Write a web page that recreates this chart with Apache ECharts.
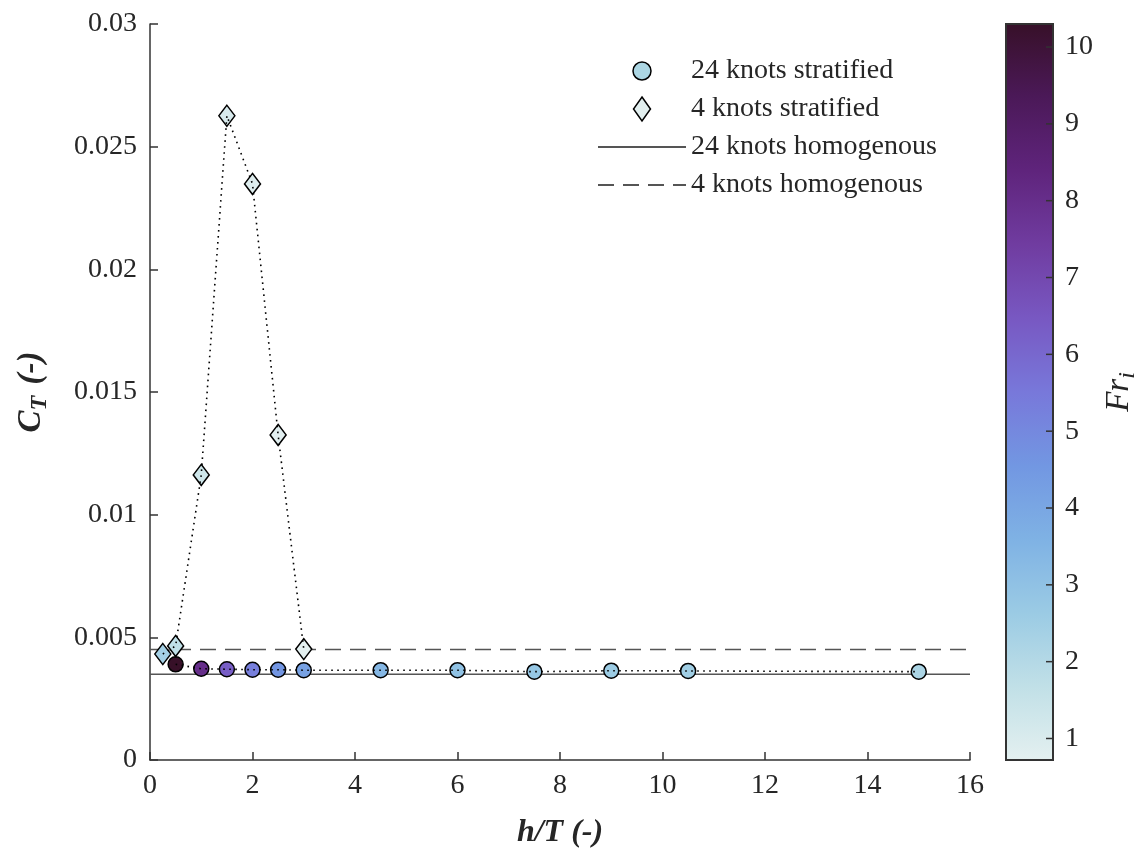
<!DOCTYPE html>
<html>
<head>
<meta charset="utf-8">
<script src="https://cdn.jsdelivr.net/npm/echarts@6/dist/echarts.min.js"></script>
<style>html,body{margin:0;padding:0;background:#fff}</style>
</head>
<body>
<div id="chart" style="width:1138px;height:849px"></div>
<script>
// 24 knots, stratified
var h24 = [0.5, 1, 1.5, 2, 2.5, 3, 4.5, 6, 7.5, 9, 10.5, 15];
var ct24 = [0.00390, 0.00372, 0.00370, 0.00368, 0.00368, 0.00366, 0.00366, 0.00366, 0.00360, 0.00364, 0.00363, 0.00360];
var fr24 = [10.3, 8.0, 6.3, 5.3, 4.6, 4.2, 3.4, 3.0, 2.8, 2.6, 2.5, 2.2];
// 4 knots, stratified
var h4 = [0.25, 0.5, 1, 1.5, 2, 2.5, 3];
var ct4 = [0.00432, 0.00465, 0.01162, 0.02626, 0.02348, 0.01325, 0.00452];
var fr4 = [2.4, 1.72, 1.33, 1.05, 0.88, 0.77, 0.72];
// homogenous reference values
var ct24Homog = 0.0035;
var ct4Homog = 0.0045;
var xRange = [0, 16];
var yRange = [0, 0.03];
var frRange = [0.72, 10.30];
var frTicks = [1, 2, 3, 4, 5, 6, 7, 8, 9, 10];
var names = ['24 knots stratified', '4 knots stratified', '24 knots homogenous', '4 knots homogenous'];

// colormap (light teal -> blue -> purple -> dark plum)
var cmap = ['#e4f0f0', '#c1e0e7', '#9bcbe4', '#7fb2e4', '#7297e2', '#7878da',
            '#7858c2', '#703ca0', '#5f247c', '#4b1958', '#371028'];

var FONT = 'Liberation Serif';
var TXT = '#262626';

var chart = echarts.init(document.getElementById('chart'));

var stops = cmap.map(function (c, i) { return { offset: i / (cmap.length - 1), color: c }; });

function pts(xs, ys, cs) {
  return xs.map(function (x, i) { return cs ? [x, ys[i], cs[i]] : [x, ys[i]]; });
}

// colorbar: gradient rect + inward ticks on its right edge
function renderColorbar(params, api) {
  var p0 = api.coord([0, frRange[0]]);
  var p1 = api.coord([1, frRange[1]]);
  var kids = [{
    type: 'rect',
    shape: { x: p0[0], y: p1[1], width: p1[0] - p0[0], height: p0[1] - p1[1] },
    style: { fill: new echarts.graphic.LinearGradient(0, 1, 0, 0, stops), stroke: '#333', lineWidth: 2 }
  }];
  frTicks.forEach(function (v) {
    var p = api.coord([1, v]);
    kids.push({ type: 'line', shape: { x1: p[0] - 7, y1: p[1], x2: p[0], y2: p[1] },
      style: { stroke: '#333', lineWidth: 1.5 } });
  });
  return { type: 'group', children: kids };
}

var option = {
  animation: false,
  backgroundColor: '#fff',
  grid: [
    { left: 150, right: 168, top: 24, bottom: 89, outerBoundsMode: 'none' },
    { left: 1006, width: 47, top: 24, bottom: 89, outerBoundsMode: 'none' }
  ],
  xAxis: [{
    type: 'value', gridIndex: 0, min: xRange[0], max: xRange[1], interval: 2,
    axisLine: { lineStyle: { color: '#333', width: 1.5 } },
    axisTick: { inside: true, length: 8, lineStyle: { color: '#333', width: 1.5 } },
    axisLabel: { color: TXT, fontFamily: FONT, fontSize: 28, margin: 12 },
    splitLine: { show: false },
    name: 'h/T (-)', nameLocation: 'middle', nameGap: 57,
    nameTextStyle: { color: TXT, fontFamily: FONT, fontSize: 32, fontWeight: 'bold', fontStyle: 'italic' }
  }, {
    type: 'value', gridIndex: 1, min: 0, max: 1, show: false
  }],
  yAxis: [{
    type: 'value', gridIndex: 0, min: yRange[0], max: yRange[1], interval: 0.005,
    axisLine: { show: true, lineStyle: { color: '#333', width: 1.5 } },
    axisTick: { show: true, inside: true, length: 8, lineStyle: { color: '#333', width: 1.5 } },
    axisLabel: { color: TXT, fontFamily: FONT, fontSize: 28, margin: 13 },
    splitLine: { show: false },
    name: '{m|C}{s|T}{m| (-)}', nameLocation: 'middle', nameGap: 98, nameRotate: 90,
    nameTextStyle: {
      rich: {
        m: { color: TXT, fontFamily: FONT, fontSize: 33, fontWeight: 'bold', fontStyle: 'italic' },
        s: { color: TXT, fontFamily: FONT, fontSize: 24, fontWeight: 'bold', fontStyle: 'italic', padding: [18, 3, 0, 0] }
      }
    }
  }, {
    type: 'value', gridIndex: 1, min: frRange[0], max: frRange[1], position: 'right',
    axisLine: { show: false },
    axisTick: { show: false },
    axisLabel: { customValues: frTicks, color: TXT, fontFamily: FONT, fontSize: 28, margin: 12 },
    splitLine: { show: false },
    name: '{m|Fr}{s|i}', nameLocation: 'middle', nameGap: 45, nameRotate: 90,
    nameTextStyle: {
      rich: {
        m: { color: TXT, fontFamily: FONT, fontSize: 33, fontStyle: 'italic' },
        s: { color: TXT, fontFamily: FONT, fontSize: 24, fontStyle: 'italic', padding: [18, 0, 0, 0] }
      }
    }
  }],
  visualMap: {
    type: 'continuous', show: false, dimension: 2, seriesIndex: [0, 1],
    min: frRange[0], max: frRange[1], inRange: { color: cmap }
  },
  legend: {
    orient: 'vertical', left: 597, top: 57, padding: 0,
    itemWidth: 88, itemHeight: 24, itemGap: 10,
    textStyle: { color: TXT, fontFamily: FONT, fontSize: 28 },
    data: [
      { name: names[0], icon: 'path://M0,-3M0,21M0,9A9,9,0,1,1,18,9A9,9,0,1,1,0,9Z',
        itemStyle: { color: '#acd6e3', borderColor: '#000', borderWidth: 1.5 } },
      { name: names[1], icon: 'path://M8.5,0L17,12L8.5,24L0,12Z',
        itemStyle: { color: '#e2efef', borderColor: '#000', borderWidth: 1.5 } },
      { name: names[2], itemStyle: { color: 'rgba(0,0,0,0)', borderWidth: 0 } },
      { name: names[3], itemStyle: { color: 'rgba(0,0,0,0)', borderWidth: 0 } }
    ]
  },
  series: [{
    name: names[0], type: 'scatter', symbol: 'circle', symbolSize: 15, z: 3,
    itemStyle: { borderColor: '#000', borderWidth: 1.5, opacity: 1 },
    data: pts(h24, ct24, fr24)
  }, {
    name: names[1], type: 'scatter', symbol: 'diamond', symbolSize: [16, 21], z: 3,
    itemStyle: { borderColor: '#000', borderWidth: 1.5, opacity: 1 },
    data: pts(h4, ct4, fr4)
  }, {
    name: names[2], type: 'line', symbol: 'none', z: 1,
    lineStyle: { color: '#555', width: 1.5 },
    data: [[xRange[0], ct24Homog], [xRange[1], ct24Homog]]
  }, {
    name: names[3], type: 'line', symbol: 'none', z: 1,
    lineStyle: { color: '#555', width: 1.5, type: [16, 9] },
    data: [[xRange[0], ct4Homog], [xRange[1], ct4Homog]]
  }, {
    type: 'line', symbol: 'none', z: 4, silent: true,
    lineStyle: { color: '#000', width: 1.6, type: [1.6, 4.4] },
    data: pts(h24, ct24)
  }, {
    type: 'line', symbol: 'none', z: 4, silent: true,
    lineStyle: { color: '#000', width: 1.6, type: [1.6, 4.4] },
    data: pts(h4, ct4)
  }, {
    type: 'custom', xAxisIndex: 1, yAxisIndex: 1, silent: true, z: 2,
    data: [[0]],
    renderItem: renderColorbar
  }]
};

chart.setOption(option);
</script>
</body>
</html>
